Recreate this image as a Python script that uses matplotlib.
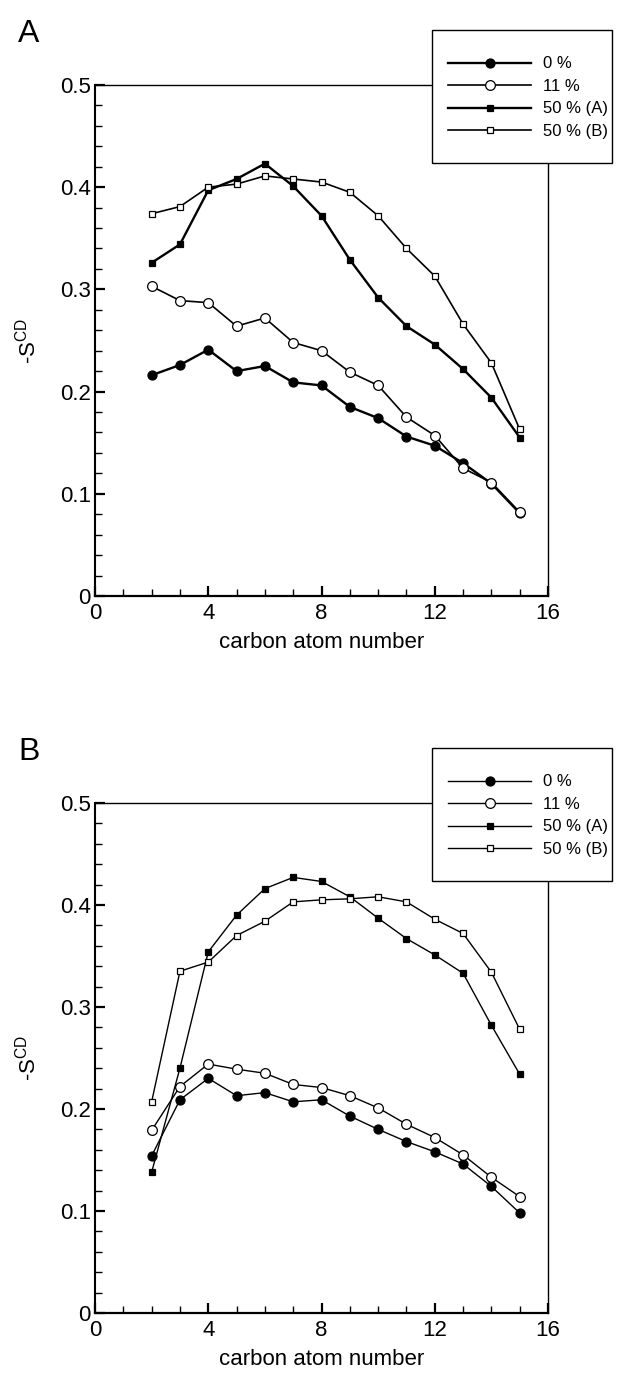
import matplotlib
matplotlib.use('agg')
import matplotlib.pyplot as plt
from matplotlib.patches import Rectangle
from matplotlib.ticker import MultipleLocator

plt.rcParams['font.family'] = ['Liberation Sans', 'DejaVu Sans']
plt.rcParams['mathtext.default'] = 'regular'

carbon = [2, 3, 4, 5, 6, 7, 8, 9, 10, 11, 12, 13, 14, 15]
labels = ['0 %', '11 %', '50 % (A)', '50 % (B)']

# panel A
a_0 = [0.216, 0.226, 0.241, 0.220, 0.225, 0.209, 0.206, 0.185, 0.174, 0.156, 0.147, 0.130, 0.110, 0.081]
a_11 = [0.303, 0.289, 0.287, 0.264, 0.272, 0.248, 0.240, 0.219, 0.206, 0.175, 0.157, 0.125, 0.111, 0.082]
a_50a = [0.326, 0.344, 0.397, 0.408, 0.423, 0.401, 0.372, 0.329, 0.292, 0.264, 0.246, 0.222, 0.194, 0.155]
a_50b = [0.374, 0.381, 0.400, 0.403, 0.411, 0.408, 0.405, 0.395, 0.372, 0.340, 0.313, 0.266, 0.228, 0.163]

# panel B
b_0 = [0.154, 0.209, 0.230, 0.213, 0.216, 0.207, 0.209, 0.193, 0.180, 0.168, 0.158, 0.146, 0.124, 0.098]
b_11 = [0.179, 0.222, 0.244, 0.239, 0.235, 0.224, 0.221, 0.213, 0.201, 0.185, 0.172, 0.155, 0.133, 0.114]
b_50a = [0.138, 0.240, 0.354, 0.390, 0.416, 0.427, 0.423, 0.408, 0.387, 0.367, 0.351, 0.333, 0.282, 0.234]
b_50b = [0.207, 0.335, 0.344, 0.370, 0.384, 0.403, 0.405, 0.406, 0.408, 0.403, 0.386, 0.372, 0.334, 0.278]

xticks = [0, 4, 8, 12, 16]
yticks = [0, 0.1, 0.2, 0.3, 0.4, 0.5]
ytick_labels = ['0', '0.1', '0.2', '0.3', '0.4', '0.5']


def draw_panel(ax, letter, series, widths):
    styles = [dict(marker='o', mfc='black', ms=6.5),
              dict(marker='o', mfc='white', ms=7),
              dict(marker='s', mfc='black', ms=4.2),
              dict(marker='s', mfc='white', ms=4.5)]
    for vals, lab, st, lw in zip(series, labels, styles, widths):
        ax.plot(carbon, vals, color='black', mec='black', mew=0.9, lw=lw,
                label=lab, clip_on=False, **st)

    ax.set_xlim(0, 16)
    ax.set_ylim(0, 0.5)
    ax.set_xticks(xticks)
    ax.set_yticks(yticks)
    ax.set_yticklabels(ytick_labels)
    ax.xaxis.set_minor_locator(MultipleLocator(1))
    ax.yaxis.set_minor_locator(MultipleLocator(0.02))
    ax.tick_params(which='both', direction='in', top=False, right=False,
                   labelsize=16, color='black')
    ax.tick_params(which='major', length=7, width=1.6)
    ax.tick_params(which='minor', length=5, width=1.0)
    ax.tick_params(axis='y', pad=3)
    ax.tick_params(axis='x', pad=5)

    ax.spines['left'].set_linewidth(1.5)
    ax.spines['bottom'].set_linewidth(1.6)
    ax.spines['top'].set_linewidth(1.0)
    ax.spines['right'].set_linewidth(1.0)

    ax.set_xlabel('carbon atom number', fontsize=16, labelpad=6)
    ax.set_ylabel('-S$^{CD}$', fontsize=16, labelpad=14)

    ax.text(-0.17, 1.085, letter, transform=ax.transAxes, fontsize=23,
            ha='left', va='baseline')

    # legend box sits over the top right corner of the frame
    box = Rectangle((0.744, 0.847), 0.397, 0.261, transform=ax.transAxes,
                    facecolor='white', edgecolor='black', lw=1.0,
                    clip_on=False, zorder=10)
    ax.add_patch(box)
    leg = ax.legend(loc='upper left', bbox_to_anchor=(0.779, 1.056),
                    frameon=False, fontsize=12, handlelength=5.0,
                    handletextpad=0.7, labelspacing=0.45, borderpad=0,
                    borderaxespad=0)
    leg.set_zorder(11)


fig = plt.figure(figsize=(6.21, 13.77), dpi=100)
axA = fig.add_axes([0.153, 0.5672, 0.7295, 0.3711])
axB = fig.add_axes([0.153, 0.0465, 0.7295, 0.3704])

draw_panel(axA, 'A', [a_0, a_11, a_50a, a_50b], [1.7, 1.2, 1.7, 1.2])
draw_panel(axB, 'B', [b_0, b_11, b_50a, b_50b], [1.0, 1.0, 1.0, 1.0])

fig.savefig('out.png', dpi=100)
